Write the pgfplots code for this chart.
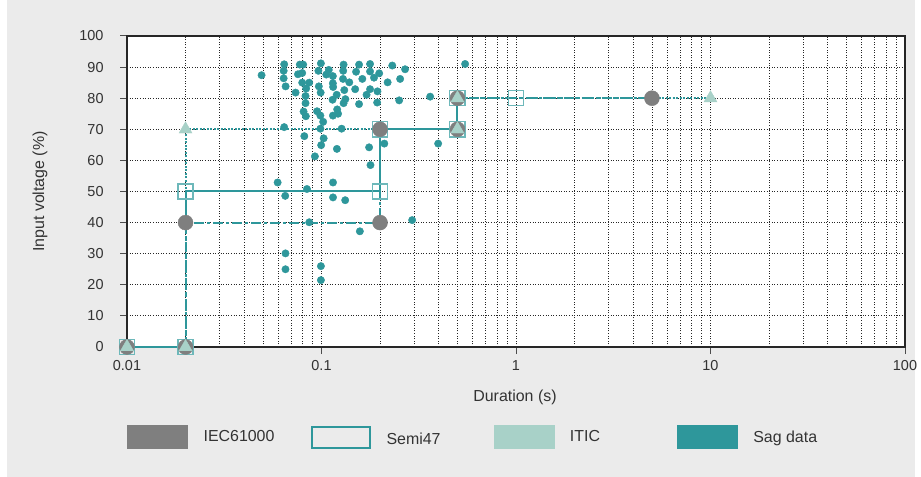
\documentclass[border=0pt]{standalone}
\usepackage{pgfplots}
\pgfplotsset{compat=1.18}
\usepackage{fontspec}
\setmainfont{Liberation Sans}
\definecolor{bggray}{HTML}{EBEBEB}
\definecolor{teal1}{HTML}{2E979B}
\definecolor{iecgray}{HTML}{7F7F7F}
\definecolor{iticl}{HTML}{A8D1C8}
\definecolor{semisq}{HTML}{6DB8BA}
\definecolor{txt}{HTML}{333333}
\begin{document}
\begin{tikzpicture}
\useasboundingbox (0,0) rectangle (921bp,477bp);
\fill[white] (0,0) rectangle (921bp,477bp);
\fill[bggray] (7bp,0) rectangle (915bp,477bp);
\begin{axis}[
  at={(127bp,130bp)}, anchor=south west,
  scale only axis, width=778bp, height=311bp,
  xmode=log, xmin=0.01, xmax=100, ymin=0, ymax=100,
  log ticks with fixed point,
  xtick={0.01,0.1,1,10,100},
  ytick={0,10,...,100},
  /pgf/number format/assume math mode=true,
  xmajorgrids, xminorgrids, ymajorgrids,
  major grid style={black!85, line width=0.8bp, dash pattern=on 1bp off 1.6bp},
  minor grid style={black!85, line width=0.8bp, dash pattern=on 1bp off 1.6bp},
  xtick pos=bottom, ytick pos=left,
  tick align=outside, major tick length=7bp, minor tick length=0bp,
  tick style={black!70, line width=1bp},
  axis line style={black!85, line width=1.2bp},
  axis background/.style={fill=white},
  tick label style={font=\fontsize{14.5}{16}\selectfont, text=txt},
  yticklabel style={xshift=-13bp},
  xticklabel style={yshift=-3bp},
  label style={font=\fontsize{16}{18}\selectfont, text=txt},
  xlabel={Duration (s)}, ylabel={Input voltage (\%)},
  xlabel style={at={(axis description cs:0.4987,-0.1608)}, anchor=center},
  ylabel style={at={(axis description cs:-0.1118,0.5)}, anchor=center},
  clip=false,
  legend style={at={(axis description cs:0,-0.2894)}, anchor=west,
    draw=none, fill=none, inner sep=0pt,
    font=\fontsize{16}{18}\selectfont, text=txt,
    /tikz/every odd column/.append style={column sep=14bp},
    /tikz/every even column/.append style={column sep=0bp}},
  legend columns=4,
]
% legend
\addlegendimage{legend image code/.code={\fill[iecgray] (0bp,-11.5bp) rectangle (60bp,11.5bp);}}
\addlegendentry{\makebox[105bp][l]{IEC61000}}
\addlegendimage{legend image code/.code={\draw[teal1, line width=2bp] (1bp,-10.5bp) rectangle (59bp,10.5bp);}}
\addlegendentry{\makebox[105bp][l]{\raisebox{-4bp}{Semi47}}}
\addlegendimage{legend image code/.code={\fill[iticl] (0bp,-11.5bp) rectangle (60bp,11.5bp);}}
\addlegendentry{\makebox[105bp][l]{ITIC}}
\addlegendimage{legend image code/.code={\fill[teal1] (0bp,-11.5bp) rectangle (60bp,11.5bp);}}
\addlegendentry{\makebox[105bp][l]{Sag data}}
% ITIC line (dotted)
\addplot[forget plot, teal1, line width=2bp, dash pattern=on 2bp off 1.5bp] coordinates {
(0.01,0) (0.02,0) (0.02,70) (0.5,70) (0.5,80) (10,80)};
% Semi47 line (solid)
\addplot[forget plot, teal1, line width=2bp] coordinates {(0.01,0) (0.02,0)};
\addplot[forget plot, teal1, line width=2bp] coordinates {
(0.02,40) (0.02,50) (0.2,50) (0.2,70) (0.5,70) (0.5,80)};
% IEC line (dash dot)
\addplot[forget plot, teal1, line width=2bp, dash pattern=on 10bp off 3bp on 3bp off 3bp] coordinates {
(0.02,0) (0.02,40) (0.2,40) (0.2,70) (0.5,70) (0.5,80) (5,80)};
% Semi47 markers
\addplot[forget plot, only marks, mark=square, mark size=7.6bp, mark options={draw=semisq, line width=1.3bp}] coordinates {
(0.01,0) (0.02,0) (0.02,50) (0.2,50) (0.2,70) (0.5,70) (0.5,80) (1,80)};
% IEC markers
\addplot[forget plot, only marks, mark=*, mark size=7.5bp, iecgray, mark options={fill=iecgray, draw=iecgray}] coordinates {
(0.01,0) (0.02,0) (0.02,40) (0.2,40) (0.2,70) (0.5,70) (0.5,80) (5,80)};
% ITIC markers
\addplot[forget plot, only marks, mark=triangle*, mark size=7.5bp, iticl, mark options={fill=iticl, draw=iticl}] coordinates {
(0.01,0) (0.02,0) (0.02,70) (0.5,70) (0.5,80) (10,80)};
% Sag data
\addplot[forget plot, only marks, mark=*, mark size=3.7bp, teal1, mark options={fill=teal1, draw=teal1}] coordinates {
(0.0492,87.4) (0.0643,90.9) (0.0639,88.8) (0.0639,86.4) (0.0654,83.8)
(0.0736,81.8) (0.0774,90.8) (0.0805,90.8) (0.0757,87.7) (0.0796,88.1)
(0.0796,85.0) (0.0865,85.0) (0.0834,83.1) (0.0828,80.7) (0.0828,78.4)
(0.0809,75.7) (0.0831,74.2) (0.0643,70.7) (0.0816,67.8) (0.0993,91.2)
(0.0964,88.8) (0.109,89.1) (0.1058,87.6) (0.1144,87.1) (0.0969,83.8)
(0.099,81.8) (0.1144,84.8) (0.1148,83.6) (0.1299,90.8) (0.1293,88.8)
(0.129,86.2) (0.139,85.1) (0.131,82.6) (0.1327,79.7) (0.1299,78.4)
(0.1197,81.1) (0.114,79.5) (0.1204,76.4) (0.1145,74.4) (0.1217,75.0)
(0.0949,75.8) (0.0987,74.4) (0.102,72.4) (0.0987,70.2) (0.1026,67.1)
(0.0996,64.9) (0.0925,61.3) (0.1269,70.2) (0.120,63.7) (0.156,90.8)
(0.1506,88.5) (0.1622,86.2) (0.149,82.9) (0.156,78.1) (0.1705,81.1)
(0.1777,82.9) (0.1777,91.0) (0.1777,88.6) (0.1862,86.6) (0.198,88.0)
(0.194,82.2) (0.1933,78.6) (0.1757,64.2) (0.2104,65.4) (0.1786,58.5)
(0.2311,90.5) (0.2188,85.1) (0.269,89.3) (0.2537,86.2) (0.2508,79.3)
(0.362,80.5) (0.5475,91.0) (0.398,65.4) (0.0595,52.9) (0.0651,48.6)
(0.0842,50.8) (0.1146,52.9) (0.1146,48.1) (0.1324,47.2) (0.0865,40.1)
(0.1575,37.2) (0.2925,40.8) (0.0653,30.1) (0.0653,25.0) (0.0993,26.0)
(0.0993,21.5)};
\end{axis}
\end{tikzpicture}
\end{document}
